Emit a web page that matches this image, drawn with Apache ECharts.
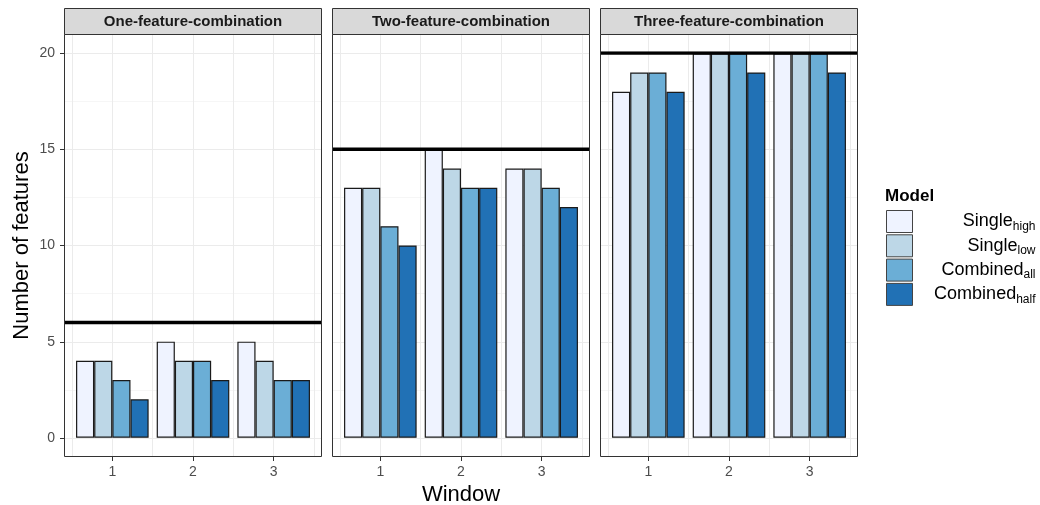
<!DOCTYPE html>
<html><head><meta charset="utf-8">
<script src="https://cdn.jsdelivr.net/npm/echarts@6/dist/echarts.min.js"></script>
<style>html,body{margin:0;padding:0;background:#fff}#c{width:1040px;height:505px}</style>
</head><body><div id="c"></div>
<script>
// ---- data ----
const panels = ['One-feature-combination', 'Two-feature-combination', 'Three-feature-combination'];
const windows = ['1', '2', '3'];
const models = ['Single_high', 'Single_low', 'Combined_all', 'Combined_half'];
const modelColors = ['#eff3ff', '#bdd7e7', '#6baed6', '#2171b5'];
const thresholds = [6, 15, 20];
// rows = models (Single_high, Single_low, Combined_all, Combined_half), cols = windows 1..3
const oneFeature = [[4, 5, 5], [4, 4, 4], [3, 4, 3], [2, 3, 3]];
const twoFeature = [[13, 15, 14], [13, 14, 14], [11, 13, 13], [10, 13, 12]];
const threeFeature = [[18, 20, 20], [19, 20, 20], [19, 20, 20], [18, 19, 19]];
const panelData = [oneFeature, twoFeature, threeFeature];
const halfBands = ['a', 'b', 'c', 'd', 'e', 'f'];

// ---- layout ----
const PL = [64, 332, 600], PW = 258, PT = 34, PH = 423, STRIP_T = 8, PAD = 8;
const Y0 = 438, Y20 = 53;
const FONT = 'Liberation Sans, Arial, sans-serif';

const grid = [], xAxis = [], yAxis = [], series = [], graphic = [];
panels.forEach((p, i) => {
  const gA = grid.length;
  grid.push({left: PL[i], top: Y20, width: PW, height: Y0 - Y20, containLabel: false, outerBoundsMode: 'none'});
  const gB = grid.length;
  grid.push({left: PL[i] + PAD, top: PT, width: PW - 2 * PAD, height: PH, containLabel: false, outerBoundsMode: 'none'});

  const xA = xAxis.length;
  xAxis.push({gridIndex: gA, type: 'category', data: ['l', 'r'], boundaryGap: false, show: false,
    axisLine: {onZero: false}});
  const xB = xAxis.length;
  xAxis.push({
    gridIndex: gB, type: 'category', data: windows, boundaryGap: true, position: 'bottom',
    axisLine: {show: false, onZero: false},
    axisTick: {show: true, alignWithLabel: true, length: 4, lineStyle: {color: '#333', width: 1}},
    axisLabel: {color: '#4d4d4d', fontSize: 14, fontFamily: FONT, margin: 8},
    splitLine: {show: false},
    name: i === 1 ? 'Window' : '', nameLocation: 'middle', nameGap: 22,
    nameTextStyle: {fontSize: 22, fontFamily: FONT, color: '#000'}
  });
  xAxis.push({
    gridIndex: gB, type: 'category', data: halfBands, boundaryGap: true, position: 'top',
    axisLine: {show: false, onZero: false}, axisTick: {show: false}, axisLabel: {show: false},
    splitLine: {show: true, lineStyle: {color: '#ebebeb', width: 1}}
  });

  const yA = yAxis.length;
  yAxis.push({
    gridIndex: gA, type: 'value', min: 0, max: 20, interval: 5,
    axisLine: {show: false, onZero: false},
    axisTick: {show: i === 0, length: 4, lineStyle: {color: '#333'}},
    axisLabel: {show: i === 0, color: '#4d4d4d', fontSize: 14, fontFamily: FONT, margin: 9},
    splitLine: {show: true, lineStyle: {color: '#ebebeb', width: 1}},
    minorTick: {show: false, splitNumber: 2},
    minorSplitLine: {show: true, lineStyle: {color: '#f2f2f2', width: 0.7}},
    name: i === 0 ? 'Number of features' : '', nameLocation: 'middle', nameGap: 31, nameRotate: 90,
    nameTextStyle: {fontSize: 22, fontFamily: FONT, color: '#000'}
  });
  const yB = yAxis.length;
  yAxis.push({gridIndex: gB, type: 'value', min: -1, max: 21, show: false, axisLine: {onZero: false}});

  models.forEach((m, k) => {
    series.push({
      type: 'bar', name: m, xAxisIndex: xB, yAxisIndex: yB,
      data: panelData[i][k],
      barGap: '0%', barCategoryGap: '10%',
      itemStyle: {color: modelColors[k], borderColor: '#1a1a1a', borderWidth: 1.2},
      emphasis: {disabled: true}, z: 3
    });
  });
  series.push({
    type: 'line', name: 'threshold', xAxisIndex: xA, yAxisIndex: yA,
    data: [thresholds[i], thresholds[i]], symbol: 'none', silent: true,
    lineStyle: {color: '#000', width: 3.5}, z: 6
  });

  // panel frame & strip
  graphic.push({type: 'rect', shape: {x: PL[i] + 0.5, y: PT + 0.5, width: PW - 1, height: PH - 1},
    style: {fill: null, stroke: '#333', lineWidth: 1}, z: 100, silent: true});
  graphic.push({type: 'rect', shape: {x: PL[i] + 0.5, y: STRIP_T + 0.5, width: PW - 1, height: PT - STRIP_T},
    style: {fill: '#d9d9d9', stroke: '#333', lineWidth: 1}, z: 100, silent: true});
  graphic.push({type: 'text', x: PL[i] + PW / 2, y: (STRIP_T + PT) / 2 + 1,
    style: {text: p, fill: '#1a1a1a', font: 'bold 15px ' + FONT, textAlign: 'center', textVerticalAlign: 'middle'},
    z: 101, silent: true});
});

graphic.push({type: 'text', left: 885, top: 188,
  style: {text: 'Model', fill: '#000', font: 'bold 17px ' + FONT}, z: 101, silent: true});

const option = {
  animation: false,
  backgroundColor: '#fff',
  grid, xAxis, yAxis, series, graphic,
  legend: {
    orient: 'vertical', left: 886, top: 210, data: models, padding: 0,
    itemWidth: 26, itemHeight: 22, itemGap: 1.3, icon: 'rect',
    selectedMode: false,
    itemStyle: {borderColor: '#444', borderWidth: 1},
    formatter: (name) => {
      const [a, b] = name.split('_');
      return '{m|' + a + '}{s|' + b + '}';
    },
    textStyle: {
      width: 118,
      rich: {
        m: {fontSize: 18, fontFamily: FONT, color: '#000', align: 'right', lineHeight: 22, verticalAlign: 'middle'},
        s: {fontSize: 12, fontFamily: FONT, color: '#000', align: 'right', lineHeight: 22, verticalAlign: 'bottom', padding: [10, 0, 0, 0]}
      }
    }
  }
};
const chart = echarts.init(document.getElementById('c'), null, {renderer: 'canvas'});
chart.setOption(option);
</script>
</body></html>
